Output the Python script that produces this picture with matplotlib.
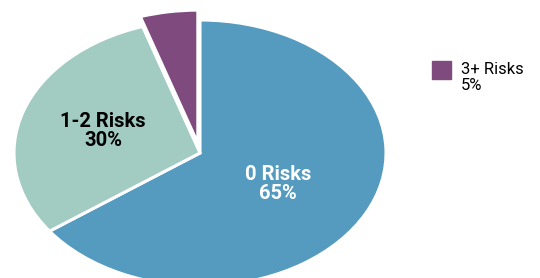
import numpy as np
import matplotlib
matplotlib.use("Agg")
from matplotlib import pyplot as plt
from matplotlib.patches import Rectangle

# data
categories = ["0 Risks", "1-2 Risks", "3+ Risks"]
shares = [65, 30, 5]
colors = ["#559BC0", "#A2CBC2", "#7F4A7E"]
explode = [0, 0, 0.075]

fig = plt.figure(figsize=(5.4, 2.78), dpi=100)
# pie is stretched into an ellipse: 186 px wide radius, 133 px tall radius
cx, cy, rx, ry, pad = 200, 125, 186, 133, 1.2
ax = fig.add_axes([(cx - rx * pad) / 540, (cy - ry * pad) / 278,
                   2 * rx * pad / 540, 2 * ry * pad / 278])
wedges, _ = ax.pie(shares, colors=colors, explode=explode, startangle=90,
                   counterclock=False,
                   wedgeprops=dict(edgecolor="white", linewidth=2.2))
ax.set_aspect("auto")
ax.set_xlim(-pad, pad)
ax.set_ylim(-pad, pad)
ax.axis("off")

font = ["Roboto", "DejaVu Sans"]
ax.text(0.42, -0.23, "%s\n%d%%" % (categories[0], shares[0]), color="white",
        ha="center", va="center", fontsize=14.5, fontweight="bold",
        family=font, linespacing=1.0)
ax.text(-0.52, 0.165, "%s\n%d%%" % (categories[1], shares[1]), color="black",
        ha="center", va="center", fontsize=14.5, fontweight="bold",
        family=font, linespacing=1.0)

# legend for the small slice only
fig.patches.append(Rectangle((432 / 540, 1 - 79 / 278), 19 / 540, 18 / 278,
                             transform=fig.transFigure, color=colors[2]))
fig.text(461 / 540, 1 - 62 / 278, "%s\n%d%%" % (categories[2], shares[2]),
         ha="left", va="top", fontsize=12, family=font, linespacing=1.1)

fig.savefig("out.png", dpi=100)
